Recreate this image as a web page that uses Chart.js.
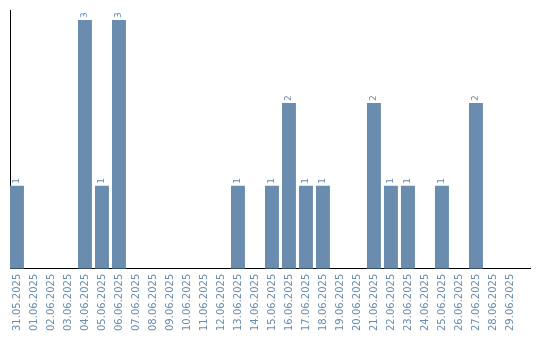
<!DOCTYPE html>
<html>
<head>
<meta charset="utf-8">
<script src="https://cdn.jsdelivr.net/npm/chart.js@4"></script>
<style>
  html, body { margin: 0; padding: 0; background: #fff; }
  #wrap { width: 540px; height: 340px; }
</style>
</head>
<body>
<div id="wrap"><canvas id="chart" width="540" height="340"></canvas></div>
<script>
const days = [
    "31.05.2025", "01.06.2025", "02.06.2025", "03.06.2025", "04.06.2025",
    "05.06.2025", "06.06.2025", "07.06.2025", "08.06.2025", "09.06.2025",
    "10.06.2025", "11.06.2025", "12.06.2025", "13.06.2025", "14.06.2025",
    "15.06.2025", "16.06.2025", "17.06.2025", "18.06.2025", "19.06.2025",
    "20.06.2025", "21.06.2025", "22.06.2025", "23.06.2025", "24.06.2025",
    "25.06.2025", "26.06.2025", "27.06.2025", "28.06.2025", "29.06.2025"
];
const counts = [1, 0, 0, 0, 3, 1, 3, 0, 0, 0, 0, 0, 0, 1, 0, 1, 2, 1, 1, 0, 0, 2, 1, 1, 0, 1, 0, 2, 0, 0];

const barColor = "#6a8caf";

// values written upright (rotated) just above each bar
const valueLabels = {
    id: "valueLabels",
    afterDatasetsDraw(chart) {
        const ctx = chart.ctx;
        const meta = chart.getDatasetMeta(0);
        ctx.save();
        ctx.fillStyle = barColor;
        ctx.font = "9px 'DejaVu Sans'";
        ctx.textAlign = "left";
        ctx.textBaseline = "middle";
        meta.data.forEach((bar, i) => {
            if (!counts[i]) return;
            ctx.save();
            ctx.translate(bar.x, bar.y - 2);
            ctx.rotate(-Math.PI / 2);
            ctx.fillText(String(counts[i]), 0, 0);
            ctx.restore();
        });
        ctx.restore();
    }
};

new Chart(document.getElementById("chart").getContext("2d"), {
    type: "bar",
    data: {
        datasets: [{
            data: counts.map((v, i) => ({ x: i, y: v })),
            backgroundColor: barColor,
            categoryPercentage: 1,
            barPercentage: 0.82
        }]
    },
    options: {
        responsive: false,
        animation: false,
        layout: { padding: { left: 10, right: 10, top: 10, bottom: 4 } },
        plugins: {
            legend: { display: false },
            tooltip: { enabled: false }
        },
        scales: {
            x: {
                type: "linear",
                offset: false,
                min: -0.41,
                max: 30.18,
                afterFit: (scale) => { scale.paddingRight = 0; scale.paddingLeft = 0; },
                grid: { display: false, drawTicks: false },
                border: { color: "#000", width: 1 },
                ticks: {
                    stepSize: 1,
                    includeBounds: false,
                    color: barColor,
                    font: { family: "'DejaVu Sans'", size: 10 },
                    maxRotation: 90,
                    minRotation: 90,
                    autoSkip: false,
                    padding: 5,
                    callback: (v) => days[v] || ""
                }
            },
            y: {
                min: 0,
                max: 3.12,
                grid: { display: false, drawTicks: false },
                border: { color: "#000", width: 1 },
                ticks: { display: false }
            }
        }
    },
    plugins: [valueLabels]
});
</script>
</body>
</html>
